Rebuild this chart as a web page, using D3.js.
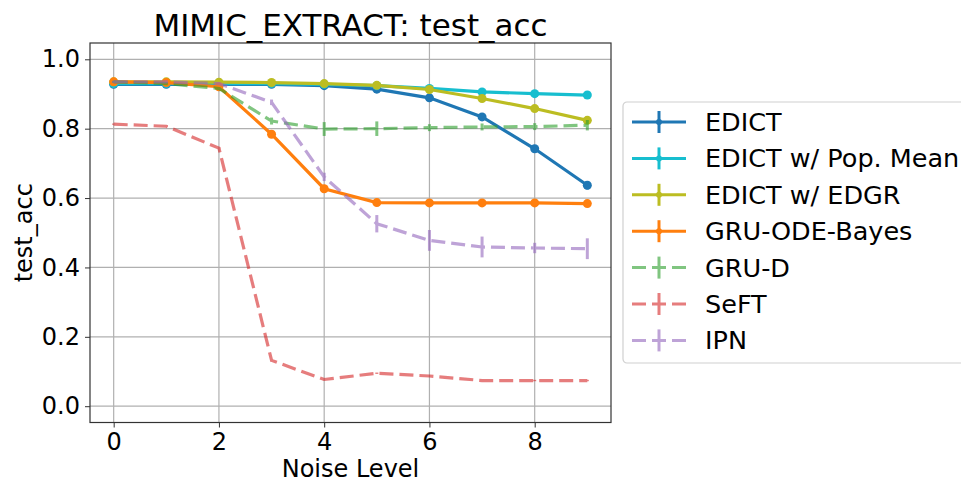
<!DOCTYPE html>
<html>
<head>
<meta charset="utf-8">
<script src="https://cdn.jsdelivr.net/npm/d3@7"></script>
<style>
  body { margin: 0; background: #fff; }
  svg { font-family: "DejaVu Sans", sans-serif; }
</style>
</head>
<body>
<div id="chart"></div>
<script>
// noise levels on the x axis
const noiseLevels = [0, 1, 2, 3, 4, 5, 6, 7, 8, 9];

// mean test accuracy per series
const edict      = [0.928, 0.928, 0.928, 0.928, 0.924, 0.914, 0.889, 0.834, 0.742, 0.637];
const edictPop   = [0.930, 0.930, 0.930, 0.930, 0.928, 0.924, 0.916, 0.906, 0.901, 0.897];
const edictEdgr  = [0.935, 0.935, 0.934, 0.933, 0.930, 0.925, 0.913, 0.887, 0.858, 0.824];
const gruOde     = [0.935, 0.933, 0.921, 0.784, 0.627, 0.587, 0.586, 0.586, 0.586, 0.584];
const gruD       = [0.935, 0.930, 0.916, 0.822, 0.799, 0.800, 0.803, 0.805, 0.806, 0.810];
const seft       = [0.813, 0.807, 0.744, 0.132, 0.077, 0.095, 0.087, 0.074, 0.074, 0.074];
const ipn        = [0.935, 0.935, 0.930, 0.876, 0.661, 0.526, 0.478, 0.459, 0.456, 0.454];

// std (error bar half-height) per series
const edictErr     = [0.003, 0.003, 0.003, 0.003, 0.003, 0.004, 0.005, 0.010, 0.006, 0.012];
const edictPopErr  = [0.003, 0.003, 0.003, 0.003, 0.003, 0.003, 0.003, 0.004, 0.004, 0.005];
const edictEdgrErr = [0.003, 0.003, 0.003, 0.003, 0.003, 0.003, 0.004, 0.004, 0.005, 0.006];
const gruOdeErr    = [0.003, 0.003, 0.004, 0.005, 0.006, 0.005, 0.004, 0.004, 0.004, 0.010];
const gruDErr      = [0.003, 0.003, 0.004, 0.010, 0.020, 0.021, 0.010, 0.010, 0.010, 0.015];
const seftErr      = [0.002, 0.002, 0.002, 0.003, 0.002, 0.002, 0.002, 0.002, 0.002, 0.002];
const ipnErr       = [0.003, 0.003, 0.004, 0.008, 0.012, 0.025, 0.030, 0.030, 0.015, 0.030];

const seriesNames = ["EDICT", "EDICT w/ Pop. Mean", "EDICT w/ EDGR", "GRU-ODE-Bayes", "GRU-D", "SeFT", "IPN"];
const seriesValues = [edict, edictPop, edictEdgr, gruOde, gruD, seft, ipn];
const seriesErrors = [edictErr, edictPopErr, edictEdgrErr, gruOdeErr, gruDErr, seftErr, ipnErr];
const seriesColors = ["#1f77b4", "#17becf", "#bcbd22", "#ff7f0e", "#2ca02c", "#d62728", "#9467bd"];
const seriesDashed = [false, false, false, false, true, true, true];

const yTicks = [0.0, 0.2, 0.4, 0.6, 0.8, 1.0];
const xTicks = [0, 2, 4, 6, 8];

const margin = { top: 43, left: 90, right: 350, bottom: 60 };
const width = 961, height = 482;
const plotW = 611 - margin.left;
const plotH = 422.5 - margin.top;
const fontSize = 24;

const svg = d3.select("#chart").append("svg")
  .attr("width", width)
  .attr("height", height);

const x = d3.scaleLinear().domain([-0.45, 9.45]).range([0, plotW]);
const y = d3.scaleLinear().domain([-0.047, 1.047]).range([plotH, 0]);

const g = svg.append("g").attr("transform", `translate(${margin.left},${margin.top})`);

// grid
g.append("g").selectAll("line").data(yTicks).enter().append("line")
  .attr("x1", 0).attr("x2", plotW)
  .attr("y1", d => y(d)).attr("y2", d => y(d))
  .attr("stroke", "#b0b0b0").attr("stroke-width", 1.2);
g.append("g").selectAll("line").data(xTicks).enter().append("line")
  .attr("y1", 0).attr("y2", plotH)
  .attr("x1", d => x(d)).attr("x2", d => x(d))
  .attr("stroke", "#b0b0b0").attr("stroke-width", 1.2);

// axes
const xAxis = d3.axisBottom(x).tickValues(xTicks).tickSize(5).tickPadding(5).tickFormat(d3.format("d"));
const yAxis = d3.axisLeft(y).tickValues(yTicks).tickSize(5).tickPadding(5).tickFormat(d3.format(".1f"));

const gx = g.append("g").attr("transform", `translate(0,${plotH})`).call(xAxis);
const gy = g.append("g").call(yAxis);
[gx, gy].forEach(a => {
  a.select(".domain").remove();
  a.selectAll("text").attr("font-size", fontSize).attr("fill", "#000").attr("font-family", "DejaVu Sans");
  a.selectAll("line").attr("stroke", "#333").attr("stroke-width", 1);
});

// lines
const line = d3.line().x((d, i) => x(noiseLevels[i])).y(d => y(d));

seriesValues.forEach((vals, s) => {
  const sg = g.append("g")
    .attr("opacity", seriesDashed[s] ? 0.6 : 1);
  sg.append("path")
    .datum(vals)
    .attr("d", line)
    .attr("fill", "none")
    .attr("stroke", seriesColors[s])
    .attr("stroke-width", 3.2)
    .attr("stroke-dasharray", seriesDashed[s] ? "14,6" : null);
  // error bars
  sg.selectAll(".err").data(vals).enter().append("line")
    .attr("x1", (d, i) => x(noiseLevels[i])).attr("x2", (d, i) => x(noiseLevels[i]))
    .attr("y1", (d, i) => y(d - seriesErrors[s][i]))
    .attr("y2", (d, i) => y(d + seriesErrors[s][i]))
    .attr("stroke", seriesColors[s]).attr("stroke-width", 3);
  if (!seriesDashed[s]) {
    sg.selectAll(".dot").data(vals).enter().append("circle")
      .attr("cx", (d, i) => x(noiseLevels[i]))
      .attr("cy", d => y(d))
      .attr("r", 4.5)
      .attr("fill", seriesColors[s]);
  }
});

// frame
g.append("rect")
  .attr("width", plotW).attr("height", plotH)
  .attr("fill", "none").attr("stroke", "#333").attr("stroke-width", 1.2);

// title and labels
svg.append("text")
  .attr("x", margin.left + plotW / 2).attr("y", 36)
  .attr("text-anchor", "middle")
  .attr("font-size", 31)
  .attr("textLength", 394)
  .attr("lengthAdjust", "spacingAndGlyphs")
  .text("MIMIC_EXTRACT: test_acc");

svg.append("text")
  .attr("x", margin.left + plotW / 2).attr("y", 477)
  .attr("text-anchor", "middle")
  .attr("font-size", fontSize)
  .text("Noise Level");

svg.append("text")
  .attr("transform", `translate(32, ${margin.top + plotH / 2}) rotate(-90)`)
  .attr("text-anchor", "middle")
  .attr("font-size", fontSize)
  .text("test_acc");

// legend
const legend = svg.append("g").attr("transform", "translate(623,102)");
legend.append("rect")
  .attr("width", 360).attr("height", 261)
  .attr("rx", 4)
  .attr("fill", "#fff").attr("stroke", "#d0d0d0").attr("stroke-width", 1.2);

seriesNames.forEach((name, s) => {
  const ly = 20 + s * 36.4;
  const item = legend.append("g").attr("transform", `translate(0,${ly})`)
    .attr("opacity", seriesDashed[s] ? 0.6 : 1);
  item.append("line")
    .attr("x1", 9).attr("x2", 63).attr("y1", 0).attr("y2", 0)
    .attr("stroke", seriesColors[s]).attr("stroke-width", 3)
    .attr("stroke-dasharray", seriesDashed[s] ? "14,6" : null);
  item.append("line")
    .attr("x1", 36).attr("x2", 36).attr("y1", -11).attr("y2", 11)
    .attr("stroke", seriesColors[s]).attr("stroke-width", 3);
  if (!seriesDashed[s]) {
    item.append("circle").attr("cx", 36).attr("cy", 0).attr("r", 3).attr("fill", seriesColors[s]);
  }
  legend.append("text")
    .attr("x", 82).attr("y", ly + 9)
    .attr("font-size", 25.5)
    .text(name);
});
</script>
</body>
</html>
